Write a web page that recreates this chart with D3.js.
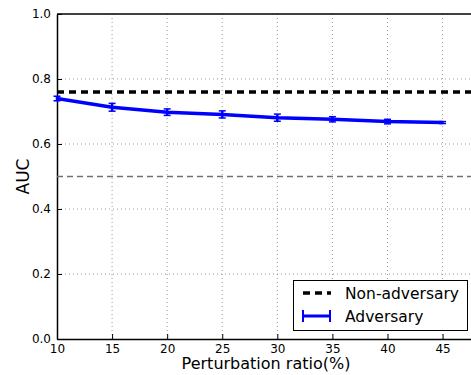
<!DOCTYPE html>
<html>
<head>
<meta charset="utf-8">
<script src="https://cdn.jsdelivr.net/npm/d3@7"></script>
<style>
body { margin: 0; background: #fff; }
text { font-family: "DejaVu Sans", sans-serif; }
</style>
</head>
<body>
<div id="chart"></div>
<script>
var width = 471;
var height = 375;

// data
var ratios = [10, 15, 20, 25, 30, 35, 40, 45];
var advAUC = [0.740, 0.713, 0.698, 0.691, 0.681, 0.676, 0.669, 0.666];
var advErr = [0.007, 0.012, 0.010, 0.011, 0.011, 0.008, 0.007, 0.003];
var nonAdvAUC = 0.76;
var chanceAUC = 0.5;
var xTicks = [10, 15, 20, 25, 30, 35, 40, 45];
var yTicks = [0.0, 0.2, 0.4, 0.6, 0.8, 1.0];

var pLeft = 57, pTop = 14, pRight = 471, pBottom = 339;

var svg = d3.select("#chart").append("svg")
    .attr("width", width)
    .attr("height", height);

var x = d3.scaleLinear().domain([10, 47.58]).range([pLeft, pRight]);
var y = d3.scaleLinear().domain([0, 1]).range([pBottom, pTop]);

// grid
svg.append("g").selectAll("line").data(xTicks.slice(1))
    .enter().append("line")
    .attr("x1", function(d) { return x(d); })
    .attr("x2", function(d) { return x(d); })
    .attr("y1", pTop).attr("y2", pBottom)
    .attr("stroke", "#999").attr("stroke-width", 1)
    .attr("stroke-dasharray", "1,3");

svg.append("g").selectAll("line").data(yTicks.slice(1, -1))
    .enter().append("line")
    .attr("x1", pLeft).attr("x2", pRight)
    .attr("y1", function(d) { return y(d); })
    .attr("y2", function(d) { return y(d); })
    .attr("stroke", "#999").attr("stroke-width", 1)
    .attr("stroke-dasharray", "1,3");

// axes (ticks inward)
var xAxis = d3.axisBottom(x).tickValues(xTicks).tickSizeInner(-5).tickSizeOuter(0).tickPadding(5);
var yAxis = d3.axisLeft(y).tickValues(yTicks).tickFormat(d3.format(".1f")).tickSizeInner(-5).tickSizeOuter(0).tickPadding(6);

var gx = svg.append("g").attr("transform", "translate(0," + pBottom + ")").call(xAxis);
var gy = svg.append("g").attr("transform", "translate(" + pLeft + ",0)").call(yAxis);
[gx, gy].forEach(function(g) {
    g.select(".domain").attr("stroke", "#000").attr("stroke-width", 1.5);
    g.selectAll(".tick line").attr("stroke", "#000");
    g.selectAll(".tick text").attr("font-size", "12px").attr("fill", "#000")
        .attr("font-family", "DejaVu Sans, sans-serif");
});
gx.selectAll(".tick text").attr("dy", "0.71em");
gy.selectAll(".tick text").attr("dy", "0.32em");

// top spine
svg.append("line")
    .attr("x1", pLeft).attr("x2", pRight)
    .attr("y1", pTop).attr("y2", pTop)
    .attr("stroke", "#000").attr("stroke-width", 1.5);

// reference lines
svg.append("line")
    .attr("x1", pLeft).attr("x2", pRight)
    .attr("y1", y(chanceAUC)).attr("y2", y(chanceAUC))
    .attr("stroke", "#6f6f6f").attr("stroke-width", 1.5)
    .attr("stroke-dasharray", "6,4");

svg.append("line")
    .attr("x1", pLeft).attr("x2", pRight)
    .attr("y1", y(nonAdvAUC)).attr("y2", y(nonAdvAUC))
    .attr("stroke", "#000").attr("stroke-width", 3.5)
    .attr("stroke-dasharray", "7,5");

// adversary line
var line = d3.line()
    .x(function(d, i) { return x(ratios[i]); })
    .y(function(d) { return y(d); });

svg.append("path")
    .datum(advAUC)
    .attr("fill", "none")
    .attr("stroke", "#0000ff")
    .attr("stroke-width", 3.5)
    .attr("d", line);

// error bars
var eb = svg.append("g").selectAll("g").data(advAUC).enter().append("g");
eb.append("line")
    .attr("x1", function(d, i) { return x(ratios[i]); })
    .attr("x2", function(d, i) { return x(ratios[i]); })
    .attr("y1", function(d, i) { return y(d - advErr[i]); })
    .attr("y2", function(d, i) { return y(d + advErr[i]); })
    .attr("stroke", "#0000ff").attr("stroke-width", 2.5);
[-1, 1].forEach(function(s) {
    eb.append("line")
        .attr("x1", function(d, i) { return x(ratios[i]) - 3.5; })
        .attr("x2", function(d, i) { return x(ratios[i]) + 3.5; })
        .attr("y1", function(d, i) { return y(d + s * advErr[i]); })
        .attr("y2", function(d, i) { return y(d + s * advErr[i]); })
        .attr("stroke", "#0000ff").attr("stroke-width", 1.5);
});

// axis labels
svg.append("text")
    .attr("x", 266)
    .attr("y", 369)
    .attr("text-anchor", "middle")
    .attr("font-size", "16px")
    .text("Perturbation ratio(%)");

svg.append("text")
    .attr("transform", "translate(29," + y(0.5) + ") rotate(-90)")
    .attr("text-anchor", "middle")
    .attr("font-size", "17px")
    .text("AUC");

// legend
var legend = svg.append("g");
legend.append("rect")
    .attr("x", 293.5).attr("y", 280.5)
    .attr("width", 174).attr("height", 50)
    .attr("fill", "#fff").attr("stroke", "#000").attr("stroke-width", 1);

legend.append("line")
    .attr("x1", 303).attr("x2", 331)
    .attr("y1", 293).attr("y2", 293)
    .attr("stroke", "#000").attr("stroke-width", 3.5)
    .attr("stroke-dasharray", "7,5");

legend.append("line")
    .attr("x1", 303).attr("x2", 330)
    .attr("y1", 316).attr("y2", 316)
    .attr("stroke", "#0000ff").attr("stroke-width", 3);
[303, 330].forEach(function(px) {
    legend.append("line")
        .attr("x1", px).attr("x2", px)
        .attr("y1", 310).attr("y2", 322)
        .attr("stroke", "#0000ff").attr("stroke-width", 2);
});

legend.append("text")
    .attr("x", 345).attr("y", 299)
    .attr("font-size", "15.5px")
    .text("Non-adversary");
legend.append("text")
    .attr("x", 345).attr("y", 322)
    .attr("font-size", "15.5px")
    .text("Adversary");
</script>
</body>
</html>
